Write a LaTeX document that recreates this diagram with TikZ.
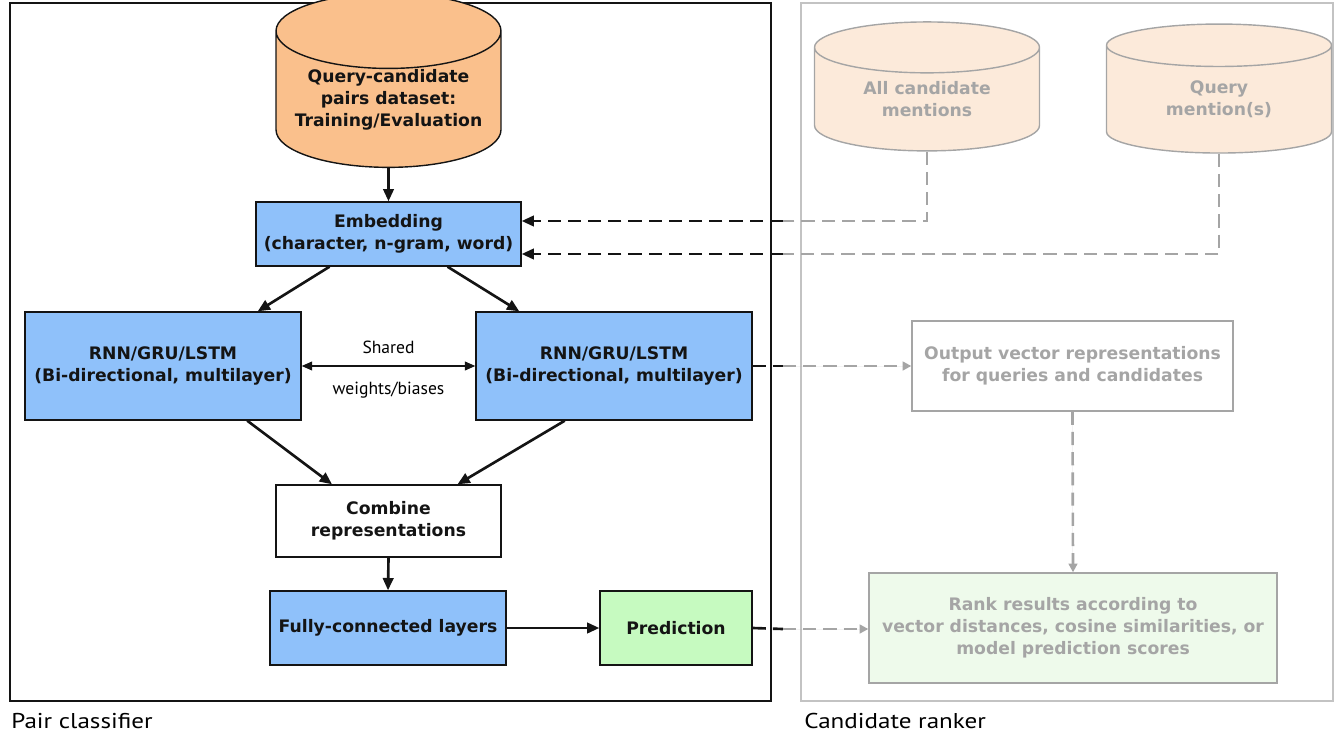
\documentclass[tikz,border=0pt]{standalone}
\usepackage{fontspec}
\setmainfont{DejaVu Sans}
\newfontfamily\captfont{PT Sans}
\newfontfamily\framefont[FakeStretch=1.17]{PT Sans}
\usetikzlibrary{shapes.geometric, arrows.meta, positioning}

% colours of the boxes
\definecolor{netblue}{RGB}{143,193,250}
\definecolor{dataorange}{RGB}{250,192,140}
\definecolor{predgreen}{RGB}{198,250,192}
\definecolor{paleorange}{RGB}{252,234,218}
\definecolor{palegreen}{RGB}{238,250,235}
\definecolor{fadegray}{RGB}{165,165,165}
\definecolor{framegray}{RGB}{195,195,195}
\definecolor{inkblack}{RGB}{20,20,20}

\tikzset{
    boxfont/.style={font=\fontsize{9.8}{12.5}\selectfont\bfseries},
    box/.style={draw=inkblack, line width=0.8pt, align=center, inner sep=0pt, text=inkblack, boxfont},
    netbox/.style={box, fill=netblue},
    fadebox/.style={box, draw=fadegray, text=fadegray},
    dbcyl/.style={cylinder, shape border rotate=90, aspect=0.4, draw=inkblack, line width=0.8pt,
        align=center, inner sep=0pt, text=inkblack, boxfont, minimum width=4.5cm, minimum height=2.58cm},
    flow/.style={line width=1.5pt, draw=inkblack, -{Triangle[length=7pt, width=6pt]}},
    darkdash/.style={line width=1.5pt, draw=inkblack, dash pattern=on 7.5pt off 4pt},
    fadedash/.style={line width=1.5pt, draw=fadegray, dash pattern=on 7.5pt off 4pt},
    fadetip/.style={-{Triangle[length=5pt, width=5pt]}},
    framelbl/.style={anchor=base west, inner sep=0pt, font=\framefont\fontsize{12.2}{15}\selectfont},
    sharelbl/.style={font=\captfont\fontsize{10}{12}\selectfont},
}

\begin{document}
\begin{tikzpicture}[x=0.02cm, y=-0.02cm]
    \useasboundingbox (0,0) rectangle (1334,733);

    % Draw the two frames
    \draw[inkblack, line width=0.8pt] (10,3) rectangle (771,701);
    \draw[framegray, line width=0.8pt] (801,3) rectangle (1333,701);
    \node[framelbl] (pairlbl) at (11,728) {Pair classifier};
    \node[framelbl] (rankerlbl) at (804,728) {Candidate ranker};

    % Pair classifier nodes
    \node[dbcyl, fill=dataorange] (ds) at (388.5,99.5) {Query-candidate\\pairs dataset:\\Training/Evaluation};
    \node[netbox, minimum width=5.3cm, minimum height=1.28cm] (emb) at (388.5,234) {Embedding\\(character, n-gram, word)};
    \node[netbox, minimum width=5.52cm, minimum height=2.16cm] (rnnL) at (163,366) {RNN/GRU/LSTM\\(Bi-directional, multilayer)};
    \node[netbox, minimum width=5.52cm, minimum height=2.16cm] (rnnR) at (614,366) {RNN/GRU/LSTM\\(Bi-directional, multilayer)};
    \node[box, fill=white, minimum width=4.5cm, minimum height=1.44cm] (comb) at (388.5,521) {Combine\\representations};
    \node[netbox, minimum width=4.72cm, minimum height=1.48cm] (fc) at (388,628) {Fully-connected layers};
    \node[box, fill=predgreen, minimum width=3.04cm, minimum height=1.48cm] (pred) at (676,628) {Prediction};

    % Candidate ranker nodes
    \node[dbcyl, draw=fadegray, text=fadegray, fill=paleorange] (allc) at (927,99.5) {All candidate\\mentions};
    \node[dbcyl, draw=fadegray, text=fadegray, fill=paleorange] (qry) at (1219,99.5) {Query\\mention(s)};
    \node[fadebox, fill=white, minimum width=6.42cm, minimum height=1.8cm] (outv) at (1072.5,366) {Output vector representations\\for queries and candidates};
    \node[fadebox, fill=palegreen, minimum width=8.16cm, minimum height=2.2cm] (rank) at (1073,628) {Rank results according to\\vector distances, cosine similarities, or\\model prediction scores};

    % Break points where the dashed lines change colour
    \coordinate (m1) at (783,221);
    \coordinate (m2) at (783,254);
    \coordinate (m3) at (783,366);
    \coordinate (m4) at (783,629);

    % Solid arrows of the classifier
    \draw[flow] (ds.south) -- (emb.north);
    \draw[flow] (emb.209) -- (rnnL.30);
    \draw[flow] (emb.331) -- (rnnR.150);
    \draw[flow] (rnnL.-33) -- (comb.147);
    \draw[flow] (rnnR.228) -- (comb.28);
    \draw[flow] (comb.south) -- (fc.north);
    \draw[flow] (fc.east) -- (pred.west);
    \draw[line width=1pt, draw=inkblack, {Triangle[length=6pt, width=5pt]}-{Triangle[length=6pt, width=5pt]}] (rnnL.east) -- (rnnR.west)
        node[midway, above=3pt, sharelbl] (sharedlbl) {Shared}
        node[midway, below=5pt, sharelbl] (wblbl) {weights/biases};

    % Dashed links between the two halves
    \draw[fadedash] (allc.south) |- (m1);
    \draw[darkdash, -{Triangle[length=7pt, width=6pt]}] (m1) -- (m1 -| emb.east);
    \draw[fadedash] (qry.south) |- (m2);
    \draw[darkdash, -{Triangle[length=7pt, width=6pt]}] (m2) -- (m2 -| emb.east);
    \draw[darkdash] (rnnR.east) -- (m3);
    \draw[fadedash, fadetip, fill=fadegray] (m3) -- (outv.west);
    \draw[fadedash, fadetip, fill=fadegray] (outv.south) -- (rank.north);
    \draw[darkdash] (pred.east) -- (m4);
    \draw[fadedash, fadetip, fill=fadegray] (m4) -- (m4 -| rank.west);
\end{tikzpicture}
\end{document}
